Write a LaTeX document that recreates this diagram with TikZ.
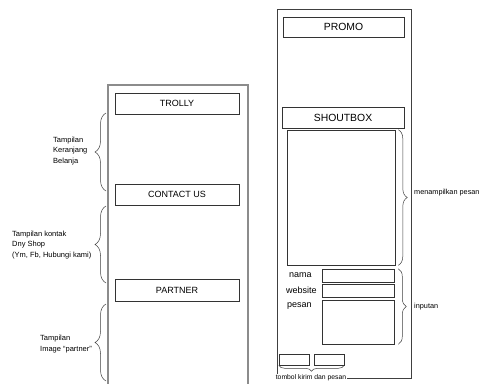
\documentclass[tikz,border=0pt]{standalone}
\usepackage{fontspec}
\setmainfont{Liberation Sans}
\usetikzlibrary{decorations.pathreplacing}
\begin{document}
\begin{tikzpicture}[x=1pt,y=-1pt,
  panel/.style={draw=black!75, line width=0.6pt},
  sidepanel/.style={draw=black!45, line width=1.2pt},
  titlebox/.style={draw=black!80, line width=0.6pt, rectangle, inner sep=0pt, font=\fontsize{9}{10}\selectfont},
  bigtitle/.style={titlebox, font=\fontsize{10.4}{12}\selectfont},
  field/.style={draw=black!80, line width=0.6pt, rectangle, inner sep=0pt},
  fieldlabel/.style={anchor=west, inner sep=0pt, font=\fontsize{9}{10}\selectfont},
  note/.style={anchor=west, inner sep=0pt, align=left, font=\fontsize{7.5}{10.5}\selectfont},
  rnote/.style={anchor=west, inner sep=0pt, font=\fontsize{7.3}{9}\selectfont},
  curly/.style={draw=black!75, line width=0.5pt, decorate, decoration={brace, amplitude=#1}},
  curly/.default=10pt
]
\useasboundingbox (0,0) rectangle (481,383);
\fill[white] (0,0) rectangle (481,383);

% left column
\draw[sidepanel] (108,384) -- (108,85) -- (248,85) -- (248,384);
\node[titlebox, minimum width=124, minimum height=21] (trolly) at (177,103.5) {TROLLY};
\node[titlebox, minimum width=124, minimum height=21] (contact) at (177,194.5) {CONTACT US};
\node[titlebox, minimum width=124, minimum height=22] (partner) at (177,290) {PARTNER};

\coordinate (b1a) at (106,191); \coordinate (b1b) at (106,113);
\coordinate (b2a) at (106,283); \coordinate (b2b) at (106,206);
\coordinate (b3a) at (106,381); \coordinate (b3b) at (106,304);
\draw[curly=11pt] (b1a) -- (b1b);
\draw[curly=11pt] (b2a) -- (b2b);
\draw[curly=11pt] (b3a) -- (b3b);

\node[note] (n1) at (53,151) {Tampilan\\Keranjang\\Belanja};
\node[note] (n2) at (12,245) {Tampilan kontak\\Dny Shop\\(Ym, Fb, Hubungi kami)};
\node[note] (n3) at (40,344) {Tampilan\\Image ``partner''};

% right column
\draw[panel] (277,9) rectangle (411,378);
\node[bigtitle, minimum width=121, minimum height=20] (promo) at (343.5,27) {PROMO};
\node[bigtitle, minimum width=122, minimum height=21] (shout) at (343,117.5) {SHOUTBOX};
\node[field, minimum width=108, minimum height=135] (msgs) at (341,197.5) {};

\node[field, minimum width=72, minimum height=13] (nama) at (358,275.5) {};
\node[field, minimum width=72, minimum height=13] (web) at (358,290.5) {};
\node[field, minimum width=72, minimum height=44] (pesan) at (358,322) {};
\node[fieldlabel] (lnama) at (289,275.5) {nama};
\node[fieldlabel] (lweb) at (286,290.5) {website};
\node[fieldlabel] (lpesan) at (287,306) {pesan};

\node[field, minimum width=30, minimum height=11] (kirim) at (294,359.5) {};
\node[field, minimum width=30, minimum height=11] (hapus) at (329,359.5) {};

\draw[curly=9pt] (msgs.north east) ++(3,0) coordinate (m1) -- (msgs.south east -| m1);
\draw[curly=8pt] (nama.north east) ++(4,0) coordinate (i1) -- (pesan.south east -| i1);
\draw[curly=6pt] (hapus.south east) -- (kirim.south west);

\node[rnote] (tmsg) at (414,193) {menampilkan pesan};
\node[rnote] (tin) at (414,307) {inputan};
\node[inner sep=0.5pt, fill=white, font=\fontsize{6.8}{8}\selectfont] (tbtn) at (311,377.5) {tombol kirim dan pesan};
\end{tikzpicture}
\end{document}
